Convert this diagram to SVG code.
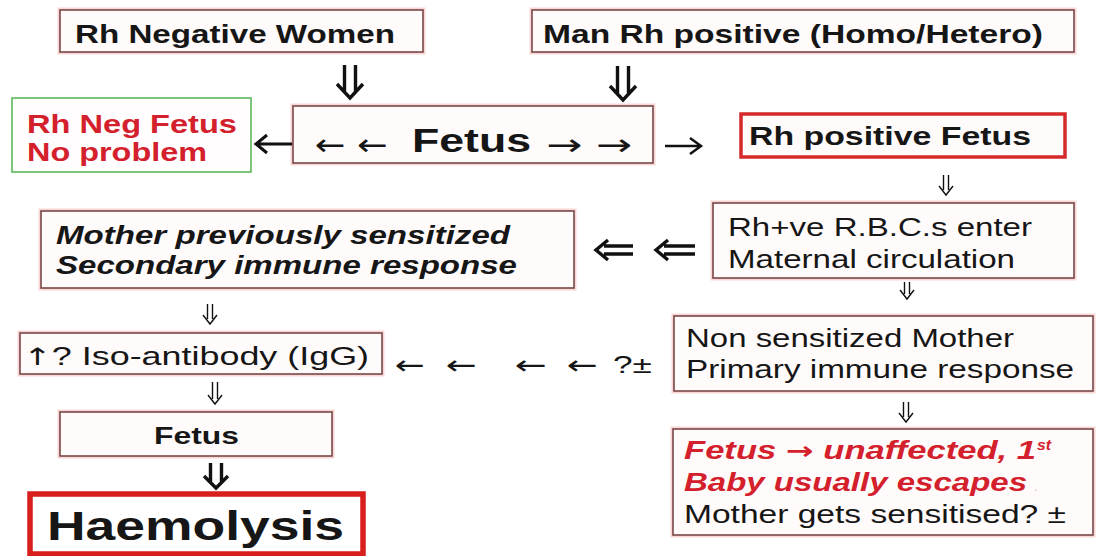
<svg xmlns="http://www.w3.org/2000/svg" width="1096" height="556" viewBox="0 0 1096 556">
<style>
  .box{fill:#fffbfb;stroke:#7a4848;stroke-width:1.6}
  .halo{fill:none;stroke:#f7d6d6;stroke-width:5}
  .t{font-family:"Liberation Sans","DejaVu Sans",sans-serif;fill:#161616}
  .dj{font-family:"DejaVu Sans",sans-serif}
  .b{font-weight:bold}
  .i{font-style:italic}
  .red{fill:#d4202c}
  .arr{fill:none;stroke:#111}
  .heavy{stroke-width:3.4}
  .thin{stroke-width:1.4}
</style>
<rect width="1096" height="556" fill="#ffffff"/>

<g id="rh-negative-women">
  <rect class="halo" x="60" y="10" width="363" height="42"/>
  <rect class="box" x="60" y="10" width="363" height="42"/>
  <text class="t b" x="75" y="43" font-size="25" textLength="320" lengthAdjust="spacingAndGlyphs">Rh Negative Women</text>
</g>

<g id="man-rh-positive">
  <rect class="halo" x="532" y="10" width="542" height="42"/>
  <rect class="box" x="532" y="10" width="542" height="42"/>
  <text class="t b" x="543" y="43" font-size="25" textLength="500" lengthAdjust="spacingAndGlyphs">Man Rh positive (Homo/Hetero)</text>
</g>

<g id="fetus-top">
  <rect class="halo" x="293" y="106" width="360" height="57"/>
  <rect class="box" x="293" y="106" width="360" height="57"/>
  <text class="t dj" x="315" y="155" font-size="30" textLength="73" lengthAdjust="spacingAndGlyphs">← ←</text>
  <text class="t b" x="412" y="152" font-size="34" textLength="119" lengthAdjust="spacingAndGlyphs">Fetus</text>
  <text class="t dj" x="546" y="155" font-size="30" textLength="86" lengthAdjust="spacingAndGlyphs">→ →</text>
</g>

<g id="rh-neg-fetus">
  <rect x="12" y="98" width="239" height="74" fill="#fffdfd" stroke="#5cb85c" stroke-width="1.6"/>
  <text class="t b red" x="27" y="133" font-size="26" textLength="210" lengthAdjust="spacingAndGlyphs">Rh Neg Fetus</text>
  <text class="t b red" x="27" y="161" font-size="26" textLength="180" lengthAdjust="spacingAndGlyphs">No problem</text>
</g>

<g id="rh-positive-fetus">
  <rect x="741" y="114" width="324" height="43" fill="#fffbfb" stroke="#d42a2a" stroke-width="3.5"/>
  <text class="t b" x="749" y="145" font-size="25" textLength="282" lengthAdjust="spacingAndGlyphs">Rh positive Fetus</text>
</g>

<g id="rbc-enter">
  <rect class="halo" x="713" y="203" width="361" height="75"/>
  <rect class="box" x="713" y="203" width="361" height="75"/>
  <text class="t" x="728" y="236" font-size="25" textLength="304" lengthAdjust="spacingAndGlyphs">Rh+ve R.B.C.s enter</text>
  <text class="t" x="728" y="268" font-size="25" textLength="287" lengthAdjust="spacingAndGlyphs">Maternal circulation</text>
</g>

<g id="mother-sensitized">
  <rect class="halo" x="41" y="211" width="533" height="77"/>
  <rect class="box" x="41" y="211" width="533" height="77"/>
  <text class="t b i" x="56" y="244" font-size="26" textLength="454" lengthAdjust="spacingAndGlyphs">Mother previously sensitized</text>
  <text class="t b i" x="56" y="274" font-size="26" textLength="461" lengthAdjust="spacingAndGlyphs">Secondary immune response</text>
</g>

<g id="iso-antibody">
  <rect class="halo" x="20" y="333" width="362" height="41"/>
  <rect class="box" x="20" y="333" width="362" height="41"/>
  <text class="t" x="23" y="365" font-size="25" textLength="346" lengthAdjust="spacingAndGlyphs"><tspan class="dj" font-size="24">↑</tspan>? Iso-antibody (IgG)</text>
</g>

<g id="non-sensitized">
  <rect class="halo" x="674" y="316" width="419" height="75"/>
  <rect class="box" x="674" y="316" width="419" height="75"/>
  <text class="t" x="686" y="347" font-size="25" textLength="328" lengthAdjust="spacingAndGlyphs">Non sensitized Mother</text>
  <text class="t" x="686" y="378" font-size="25" textLength="388" lengthAdjust="spacingAndGlyphs">Primary immune response</text>
</g>

<g id="fetus-unaffected">
  <rect class="halo" x="673" y="429" width="420" height="106"/>
  <rect class="box" x="673" y="429" width="420" height="106"/>
  <text class="t b i red" x="684" y="459" font-size="25" textLength="352" lengthAdjust="spacingAndGlyphs">Fetus <tspan class="dj" font-size="24">→</tspan> unaffected, 1</text>
  <text class="t b i red" x="1037" y="450" font-size="14" textLength="14" lengthAdjust="spacingAndGlyphs">st</text>
  <text class="t b i red" x="684" y="491" font-size="25" textLength="343" lengthAdjust="spacingAndGlyphs">Baby usually escapes</text>
  <text class="t" x="1034" y="491" font-size="12" style="fill:#e8b0b0">.</text>
  <text class="t" x="684" y="523" font-size="25" textLength="382" lengthAdjust="spacingAndGlyphs">Mother gets sensitised? ±</text>
</g>

<g id="fetus-bottom">
  <rect class="halo" x="60" y="412" width="272" height="44"/>
  <rect class="box" x="60" y="412" width="272" height="44"/>
  <text class="t b" x="154" y="444" font-size="24" textLength="85" lengthAdjust="spacingAndGlyphs">Fetus</text>
</g>

<g id="haemolysis">
  <rect x="30" y="494" width="333" height="60" fill="#ffffff" stroke="#d91e1e" stroke-width="5.5"/>
  <text class="t b" x="47" y="540" font-size="40" textLength="297" lengthAdjust="spacingAndGlyphs">Haemolysis</text>
</g>

<g id="connectors">
  <path class="arr heavy" d="M344.5 65 V91 M355.5 65 V91 M337 84 L350 98 L363 84"/>
  <path class="arr heavy" d="M617.5 66 V93 M628.5 66 V93 M610 86 L623 100 L636 86"/>
  <path class="arr heavy" d="M210.5 463 V482 M221.5 463 V482 M204 476 L216 488 L228 476"/>
  <path class="arr" stroke-width="3" d="M292 144 H257 M267 135 L256 144 L267 153"/>
  <path class="arr" stroke-width="2.5" d="M665 146 H700 M690 138 L701 146 L690 154"/>
  <path class="arr heavy" d="M604 246 H633 M604 254 H633 M608 240 L596 250 L608 260"/>
  <path class="arr heavy" d="M664 246 H695 M664 254 H695 M668 240 L656 250 L668 260"/>
  <path class="arr thin" d="M943.5 175 V190 M948.5 175 V190 M939 186 L946 195 L953 186"/>
  <path class="arr thin" d="M904.5 282 V294 M909.5 282 V294 M900 290 L907 299 L914 290"/>
  <path class="arr thin" d="M207.5 304 V319 M212.5 304 V319 M203 315 L210 324 L217 315"/>
  <path class="arr thin" d="M903.5 402 V417 M908.5 402 V417 M899 413 L906 422 L913 413"/>
  <path class="arr thin" d="M212.5 382 V399 M217.5 382 V399 M208 395 L215 404 L222 395"/>
  <text class="t dj" x="395" y="374" font-size="26" textLength="30" lengthAdjust="spacingAndGlyphs">←</text>
  <text class="t dj" x="446" y="374" font-size="26" textLength="31" lengthAdjust="spacingAndGlyphs">←</text>
  <text class="t dj" x="515" y="374" font-size="26" textLength="32" lengthAdjust="spacingAndGlyphs">←</text>
  <text class="t dj" x="567" y="374" font-size="26" textLength="31" lengthAdjust="spacingAndGlyphs">←</text>
  <text class="t" x="613" y="373" font-size="24" textLength="39" lengthAdjust="spacingAndGlyphs">?±</text>
</g>
</svg>
